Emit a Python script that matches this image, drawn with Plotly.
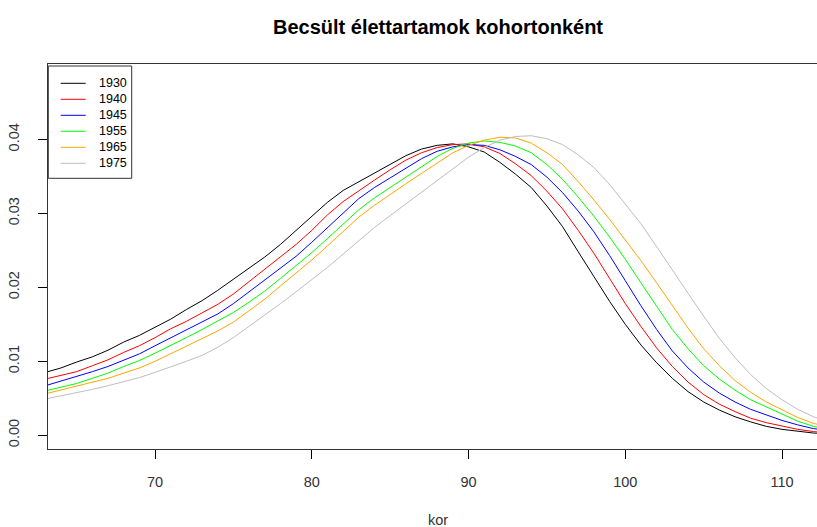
import plotly.graph_objects as go

# Estimated lifetime densities by birth cohort, one value per year of age
ages = list(range(63, 114))

cohorts = ["1930", "1940", "1945", "1955", "1965", "1975"]
colors = ["#000000", "#FF0000", "#0000FF", "#00FF00", "#FFA500", "#BEBEBE"]

d1930 = [0.0085, 0.0091, 0.0099, 0.0106, 0.0115, 0.0126, 0.0135, 0.0146, 0.0157, 0.0170,
         0.0182, 0.0196, 0.0211, 0.0226, 0.0241, 0.0258, 0.0277, 0.0296, 0.0315, 0.0331,
         0.0343, 0.0354, 0.0366, 0.0378, 0.0387, 0.0392, 0.0394, 0.0390, 0.0383, 0.0369,
         0.0353, 0.0335, 0.0310, 0.0282, 0.0248, 0.0214, 0.0181, 0.0150, 0.0122, 0.0098,
         0.0077, 0.0059, 0.0045, 0.0034, 0.0025, 0.0018, 0.0012, 0.0008, 0.0005, 0.0003,
         0.0002]
d1940 = [0.0076, 0.0081, 0.0086, 0.0094, 0.0102, 0.0112, 0.0121, 0.0132, 0.0144, 0.0154,
         0.0165, 0.0177, 0.0191, 0.0208, 0.0225, 0.0241, 0.0258, 0.0277, 0.0298, 0.0316,
         0.0331, 0.0345, 0.0359, 0.0372, 0.0382, 0.0389, 0.0393, 0.0394, 0.0390, 0.0381,
         0.0367, 0.0351, 0.0330, 0.0306, 0.0277, 0.0246, 0.0212, 0.0178, 0.0147, 0.0118,
         0.0093, 0.0072, 0.0055, 0.0042, 0.0032, 0.0023, 0.0017, 0.0012, 0.0008, 0.0005,
         0.0003]
d1945 = [0.0067, 0.0073, 0.0079, 0.0086, 0.0093, 0.0101, 0.0110, 0.0121, 0.0132, 0.0143,
         0.0153, 0.0164, 0.0178, 0.0194, 0.0210, 0.0225, 0.0242, 0.0261, 0.0281, 0.0301,
         0.0320, 0.0335, 0.0348, 0.0362, 0.0374, 0.0384, 0.0390, 0.0393, 0.0392, 0.0386,
         0.0377, 0.0366, 0.0349, 0.0328, 0.0303, 0.0275, 0.0243, 0.0209, 0.0175, 0.0143,
         0.0114, 0.0091, 0.0072, 0.0057, 0.0045, 0.0035, 0.0027, 0.0020, 0.0014, 0.0009,
         0.0006]
d1955 = [0.0060, 0.0065, 0.0070, 0.0077, 0.0084, 0.0093, 0.0101, 0.0111, 0.0121, 0.0132,
         0.0143, 0.0154, 0.0166, 0.0180, 0.0195, 0.0212, 0.0229, 0.0247, 0.0266, 0.0286,
         0.0305, 0.0321, 0.0335, 0.0350, 0.0364, 0.0377, 0.0388, 0.0395, 0.0398, 0.0396,
         0.0391, 0.0382, 0.0366, 0.0346, 0.0322, 0.0296, 0.0268, 0.0238, 0.0206, 0.0174,
         0.0143, 0.0117, 0.0094, 0.0076, 0.0061, 0.0048, 0.0038, 0.0028, 0.0019, 0.0012,
         0.0008]
d1965 = [0.0056, 0.0061, 0.0066, 0.0071, 0.0077, 0.0084, 0.0091, 0.0100, 0.0110, 0.0120,
         0.0130, 0.0141, 0.0153, 0.0168, 0.0184, 0.0202, 0.0219, 0.0237, 0.0256, 0.0276,
         0.0295, 0.0311, 0.0326, 0.0340, 0.0354, 0.0368, 0.0382, 0.0392, 0.0399, 0.0403,
         0.0402, 0.0395, 0.0382, 0.0366, 0.0343, 0.0318, 0.0292, 0.0264, 0.0236, 0.0206,
         0.0175, 0.0145, 0.0117, 0.0094, 0.0074, 0.0058, 0.0045, 0.0034, 0.0024, 0.0016,
         0.0011]
d1975 = [0.0049, 0.0053, 0.0057, 0.0062, 0.0067, 0.0072, 0.0078, 0.0085, 0.0092, 0.0100,
         0.0108, 0.0119, 0.0132, 0.0147, 0.0162, 0.0178, 0.0194, 0.0210, 0.0227, 0.0245,
         0.0263, 0.0281, 0.0297, 0.0313, 0.0329, 0.0345, 0.0361, 0.0376, 0.0389, 0.0399,
         0.0404, 0.0405, 0.0401, 0.0393, 0.0379, 0.0362, 0.0339, 0.0313, 0.0286, 0.0255,
         0.0223, 0.0192, 0.0161, 0.0131, 0.0105, 0.0082, 0.0063, 0.0048, 0.0035, 0.0025,
         0.0018]

series = [d1930, d1940, d1945, d1955, d1965, d1975]

x_ticks = [70, 80, 90, 100, 110]
y_ticks = [0.00, 0.01, 0.02, 0.03, 0.04]
y_tick_text = ["0.00", "0.01", "0.02", "0.03", "0.04"]

FONT = "Liberation Sans, Arial, sans-serif"
W, H = 817, 527
L, R, T, B = 48, 0, 64, 78

fig = go.Figure()
for name, col, vals in zip(cohorts, colors, series):
    fig.add_trace(go.Scatter(x=ages, y=vals, mode="lines", name=name,
                             line=dict(color=col, width=1), showlegend=False))

fig.update_layout(
    width=W, height=H,
    margin=dict(l=L, r=R, t=T, b=B),
    plot_bgcolor="white", paper_bgcolor="white",
    font=dict(family=FONT, color="#000000"),
    title=dict(text="<b>Becsült élettartamok kohortonként</b>",
               font=dict(size=20, family=FONT, color="#000000"),
               x=438 / W, xref="container", xanchor="center",
               y=1 - 27 / H, yref="container", yanchor="middle"),
    xaxis=dict(range=[63.17, 112.23], tickvals=x_ticks, ticks="outside", ticklen=9,
               tickcolor="#000000", showline=True, mirror=True, linecolor="#333333",
               linewidth=1, showgrid=False, zeroline=False,
               tickfont=dict(size=14.5, family=FONT, color="#333333"),
               ticklabelstandoff=11),
    yaxis=dict(range=[-0.00186, 0.0502], tickvals=y_ticks, ticktext=y_tick_text,
               ticks="outside", ticklen=9, tickcolor="#000000", tickangle=-90,
               showline=True, mirror=False, linecolor="#333333", linewidth=1,
               showgrid=False, zeroline=False,
               tickfont=dict(size=14.5, family=FONT, color="#333333"),
               ticklabelstandoff=13),
)

# axis title
fig.add_annotation(text="kor", xref="paper", yref="paper",
                   x=(438 - L) / (W - L - R), y=-(520 - (H - B)) / (H - T - B),
                   xanchor="center", yanchor="middle", showarrow=False,
                   font=dict(size=14.5, family=FONT, color="#333333"))

# legend box, placed in pixel positions converted to paper coordinates
pw, ph = W - L - R, H - T - B
def px(xp):
    return (xp - L) / pw
def py(yp):
    return 1 - (yp - T) / ph

fig.add_shape(type="rect", xref="paper", yref="paper",
              x0=px(48.3), x1=px(131.7), y0=py(66), y1=py(178.3),
              line=dict(color="#333333", width=1), fillcolor="white", layer="above")
for i, (name, col) in enumerate(zip(cohorts, colors)):
    yy = 83.3 + 16 * i
    fig.add_shape(type="line", xref="paper", yref="paper",
                  x0=px(60.7), x1=px(85.7), y0=py(yy), y1=py(yy),
                  line=dict(color=col, width=1), layer="above")
    fig.add_annotation(text=name, xref="paper", yref="paper", x=px(96.7), y=py(yy),
                       xanchor="left", yanchor="middle", showarrow=False,
                       font=dict(size=12.5, family=FONT, color="#000000"))

fig.write_html("out.html")
